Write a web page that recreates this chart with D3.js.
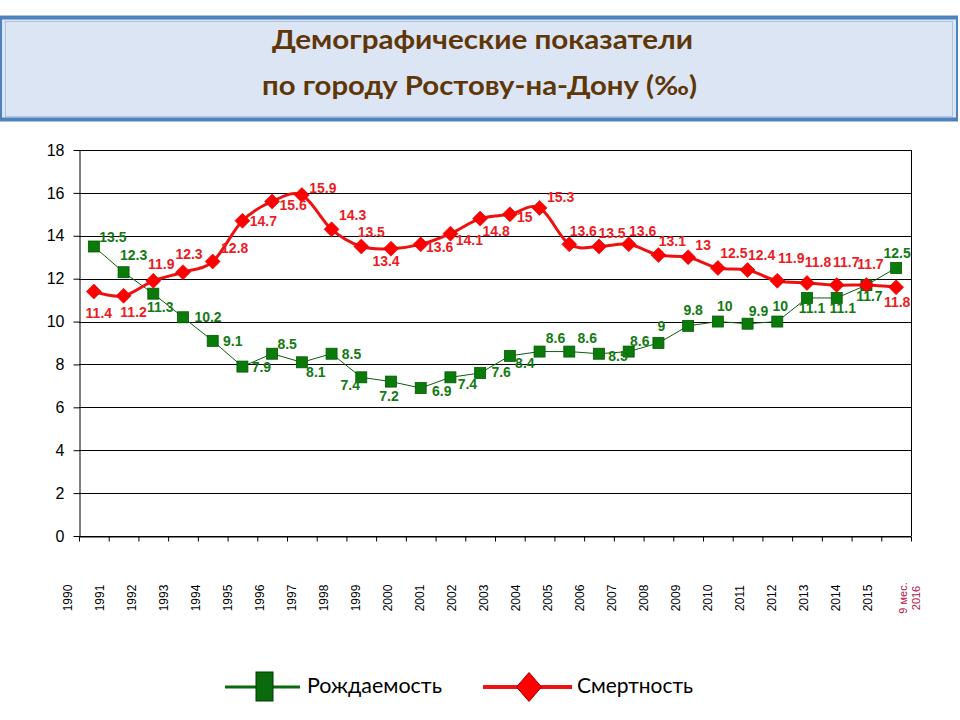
<!DOCTYPE html>
<html><head><meta charset="utf-8">
<script src="https://cdn.jsdelivr.net/npm/d3@7"></script>
<style>body{margin:0;background:#fff}svg{display:block}</style>
</head><body><svg id="c" width="960" height="720"></svg>
<script>
// ---------- data ----------
const titleLines = ["Демографические показатели", "по городу Ростову-на-Дону (‰)"];
const xLabels = ["1990","1991","1992","1993","1994","1995","1996","1997","1998","1999","2000",
  "2001","2002","2003","2004","2005","2006","2007","2008","2009","2010","2011","2012","2013",
  "2014","2015","9 мес.\n2016"];
const yTicks = [0, 2, 4, 6, 8, 10, 12, 14, 16, 18];
const seriesNames = ["Рождаемость", "Смертность"];
const birthValues = [13.5,12.3,11.3,10.2,9.1,7.9,8.5,8.1,8.5,7.4,7.2,6.9,7.4,7.6,8.4,8.6,8.6,8.5,8.6,9,9.8,10,9.9,10,11.1,11.1,11.7,12.5];
const deathValues = [11.4,11.2,11.9,12.3,12.8,14.7,15.6,15.9,14.3,13.5,13.4,13.6,14.1,14.8,15,15.3,13.6,13.5,13.6,13.1,13,12.5,12.4,11.9,11.8,11.7,11.7,11.6];
const birthLabels = birthValues.map(String);
const deathLabels = ["11.4","11.2","11.9","12.3","12.8","14.7","15.6","15.9","14.3","13.5","13.4","13.6","14.1","14.8","15","15.3","13.6","13.5","13.6","13.1","13","12.5","12.4","11.9","11.8","11.7","11.7","11.8"];

// ---------- label placement (offset of label centre from its marker) ----------
const birthNudge = [[19,-10],[10,-17],[7,13],[25,0],[20,0],[19,0],[15,-10],[14,10],[20,0],[-11,8],[-2,14],[21,3],[17,7],[21,-1],[15,7],[16,-14],[18,-14],[19,2],[11,-11],[3,-17],[5,-16],[7,-16],[11,-13],[3,-16],[5,10],[6,10],[3,11],[1,-15]];
const deathNudge = [[5,21],[10,16],[8,-17],[6,-18],[22,-14],[21,0],[21,3],[21,-7],[21,-14],[10,-15],[-5,12],[19,3],[19,6],[16,12],[15,3],[21,-11],[14,-13],[13,-14],[14,-13],[14,-14],[15,-12],[16,-15],[14,-15],[14,-23],[11,-21],[9.5,-23],[4,-21],[1,15]];

// ---------- layout ----------
const svg = d3.select("#c");
const plot = {left: 79, right: 911, top: 150, bottom: 536};
const GREEN = "#0a7a0a", GREEN_DARK = "#005a00", RED = "#ee1111";

// title box
const tb = svg.append("g");
tb.append("rect").attr("x", 1).attr("y", 17).attr("width", 956).attr("height", 103)
  .attr("fill", "#dbe5f4").attr("stroke", "#4f81bd").attr("stroke-width", 2);
tb.append("line").attr("x1", 0).attr("x2", 958).attr("y1", 17.5).attr("y2", 17.5).attr("stroke", "#4f81bd").attr("stroke-width", 4);
tb.append("line").attr("x1", 0).attr("x2", 958).attr("y1", 119.5).attr("y2", 119.5).attr("stroke", "#4f81bd").attr("stroke-width", 4);
tb.append("rect").attr("x", 5.5).attr("y", 21.5).attr("width", 947).attr("height", 95)
  .attr("fill", "none").attr("stroke", "#a9c4e8").attr("stroke-width", 1);
const titleY = [49, 95], titleW = [421, 435], titleCx = [482.5, 479.5];
tb.selectAll("text.t").data(titleLines).join("text").attr("class", "t")
  .attr("x", (d, i) => titleCx[i]).attr("y", (d, i) => titleY[i])
  .attr("text-anchor", "middle")
  .attr("font-family", "Lato, 'Open Sans', sans-serif").attr("font-weight", "bold")
  .attr("font-size", 26).attr("fill", "#5e3608")
  .attr("textLength", (d, i) => titleW[i]).attr("lengthAdjust", "spacingAndGlyphs")
  .text(d => d);

// scales
const n = birthValues.length;
const xEdge = d3.scaleLinear().domain([0, n]).range([plot.left, plot.right]);
const xc = i => xEdge(i + 0.5);
const y = d3.scaleLinear().domain([0, 18]).range([plot.bottom, plot.top]);

// gridlines
svg.append("g").selectAll("line").data(yTicks).join("line")
  .attr("x1", plot.left).attr("x2", plot.right)
  .attr("y1", d => Math.round(y(d)) + 0.5).attr("y2", d => Math.round(y(d)) + 0.5)
  .attr("stroke", "#000").attr("stroke-width", 1);
svg.append("line").attr("x1", plot.right + 0.5).attr("x2", plot.right + 0.5)
  .attr("y1", y(18)).attr("y2", y(0)).attr("stroke", "#000");

// y axis
const yAxis = svg.append("g").attr("transform", `translate(${plot.left + 0.5},0)`)
  .call(d3.axisLeft(y).tickValues(yTicks).tickSize(6).tickPadding(9).tickSizeOuter(0));
yAxis.selectAll("text").attr("font-family", "'Liberation Sans', Arial, sans-serif").attr("font-size", 16).attr("fill", "#000");
yAxis.selectAll("line,path").attr("stroke", "#000");

// x axis (tick marks on category boundaries)
const xAxis = svg.append("g").attr("transform", `translate(0,${Math.round(y(0)) + 0.5})`)
  .call(d3.axisBottom(xEdge).tickValues(d3.range(n + 1)).tickSize(5).tickSizeOuter(0).tickFormat(""));
xAxis.selectAll("line,path").attr("stroke", "#000");

// x labels
const xl = d3.scalePoint().domain(xLabels).range([68, 900]);
const xlab = svg.append("g").selectAll("text").data(xLabels).join("text")
  .attr("transform", d => {
    const multi = d.includes("\n");
    return `translate(${xl(d) + (multi ? 9.5 : 0)},598) rotate(-90)`;
  })
  .attr("text-anchor", "middle")
  .attr("font-family", "'Liberation Sans', Arial, sans-serif")
  .attr("font-size", d => d.includes("\n") ? 11 : 12)
  .attr("fill", d => d.includes("\n") ? "#b3164a" : "#000");
xlab.each(function (d) {
  const parts = d.split("\n");
  const t = d3.select(this);
  const lh = 12.5;
  parts.forEach((p, k) => {
    t.append("tspan").attr("x", 0)
      .attr("y", (k - (parts.length - 1) / 2) * lh)
      .attr("dy", "0.35em").text(p);
  });
});

// lines
const birthLine = d3.line().x((d, i) => xc(i)).y(d => y(d));
svg.append("path").datum(birthValues).attr("d", birthLine)
  .attr("fill", "none").attr("stroke", "#0b5e0b").attr("stroke-width", 1);
const deathLine = d3.line().x((d, i) => xc(i)).y(d => y(d)).curve(d3.curveCardinal.tension(0));
svg.append("path").datum(deathValues).attr("d", deathLine)
  .attr("fill", "none").attr("stroke", RED).attr("stroke-width", 3);

// markers
const sq = 11;
svg.append("g").selectAll("rect").data(birthValues).join("rect")
  .attr("x", (d, i) => xc(i) - sq / 2).attr("y", d => y(d) - sq / 2)
  .attr("width", sq).attr("height", sq)
  .attr("fill", GREEN).attr("stroke", GREEN_DARK).attr("stroke-width", 0.8);
const dm = 7.5;
svg.append("g").selectAll("path").data(deathValues).join("path")
  .attr("d", (d, i) => {
    const cx = xc(i), cy = y(d);
    return `M${cx},${cy - dm}L${cx + dm},${cy}L${cx},${cy + dm}L${cx - dm},${cy}Z`;
  })
  .attr("fill", "#ff0000").attr("stroke", "#dd0000").attr("stroke-width", 0.6);

// data labels
const labFont = "'Liberation Sans', Arial, sans-serif";
svg.append("g").selectAll("text").data(birthValues).join("text")
  .attr("x", (d, i) => xc(i) + birthNudge[i][0]).attr("y", (d, i) => y(d) + birthNudge[i][1])
  .attr("dy", "0.36em").attr("text-anchor", "middle")
  .attr("font-family", labFont).attr("font-weight", "bold").attr("font-size", 14)
  .attr("fill", "#137a13").text((d, i) => birthLabels[i]);
svg.append("g").selectAll("text").data(deathValues).join("text")
  .attr("x", (d, i) => xc(i) + deathNudge[i][0]).attr("y", (d, i) => y(d) + deathNudge[i][1])
  .attr("dy", "0.36em").attr("text-anchor", "middle")
  .attr("font-family", labFont).attr("font-weight", "bold").attr("font-size", 14)
  .attr("fill", "#ec1c24").text((d, i) => deathLabels[i]);

// legend
const lg = svg.append("g");
const legY = 687;
lg.append("line").attr("x1", 225).attr("x2", 300).attr("y1", legY).attr("y2", legY)
  .attr("stroke", "#0b6a0b").attr("stroke-width", 3);
lg.append("rect").attr("x", 256).attr("y", legY - 15).attr("width", 17).attr("height", 29)
  .attr("fill", "#0b6a0b").attr("stroke", "#033803").attr("stroke-width", 1);
lg.append("line").attr("x1", 483).attr("x2", 572).attr("y1", legY).attr("y2", legY)
  .attr("stroke", RED).attr("stroke-width", 4);
lg.append("path").attr("d", `M529,${legY - 14.5}L541.5,${legY}L529,${legY + 14.5}L516.5,${legY}Z`)
  .attr("fill", "#ff0000").attr("stroke", "#9a0000").attr("stroke-width", 1);
const legX = [307, 577], legW = [135, 116];
lg.selectAll("text").data(seriesNames).join("text")
  .attr("x", (d, i) => legX[i]).attr("y", 693)
  .attr("font-family", "Lato, 'Open Sans', sans-serif").attr("font-size", 22).attr("fill", "#000")
  .attr("textLength", (d, i) => legW[i]).attr("lengthAdjust", "spacingAndGlyphs")
  .text(d => d);
</script>
</body></html>
